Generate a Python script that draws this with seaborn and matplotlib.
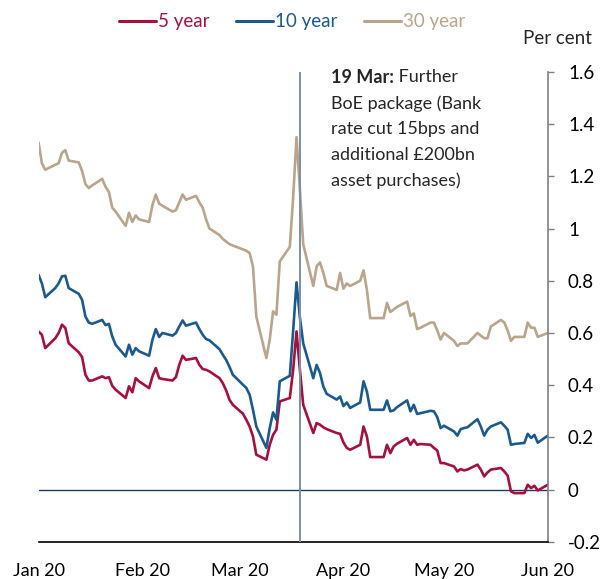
import matplotlib
matplotlib.use("Agg")
import matplotlib.pyplot as plt
import pandas as pd
import seaborn as sns
from matplotlib.lines import Line2D
from matplotlib.transforms import offset_copy

# business days, Jan 1 to Jun 1 2020 (holidays carry last value)
dates = pd.bdate_range("2020-01-01", "2020-06-01")

yld_30 = [1.33, 1.25, 1.225, 1.244, 1.25, 1.29, 1.30, 1.26, 1.253, 1.22, 1.17, 1.155, 1.165, 1.19, 1.16, 1.14, 1.08, 1.065, 1.01, 1.06, 1.025, 1.05, 1.035,
          1.025, 1.09, 1.13, 1.095, 1.087, 1.065, 1.07, 1.10, 1.13, 1.11, 1.125, 1.10, 1.08, 1.035, 1.00, 0.975, 0.96, 0.95, 0.94, 0.935,
          0.92, 0.915, 0.906, 0.855, 0.663, 0.504, 0.574, 0.683, 0.67, 0.874, 0.93, 1.12, 1.35, 1.15, 0.94, 0.78, 0.855, 0.87, 0.83, 0.78, 0.765, 0.83,
          0.77, 0.79, 0.78, 0.80, 0.84, 0.765, 0.657, 0.657, 0.657, 0.715, 0.68, 0.69, 0.70, 0.72, 0.665, 0.675, 0.615, 0.62, 0.64, 0.64, 0.61, 0.575,
          0.60, 0.57, 0.55, 0.56, 0.56, 0.56, 0.60, 0.59, 0.58, 0.58, 0.625, 0.65, 0.64, 0.61, 0.57, 0.585, 0.585, 0.64, 0.62, 0.62, 0.585,
          0.60]

yld_10 = [0.823, 0.79, 0.737, 0.772, 0.79, 0.817, 0.819, 0.772, 0.75, 0.727, 0.663, 0.64, 0.635, 0.65, 0.63, 0.635, 0.587, 0.555, 0.51, 0.555, 0.517, 0.542, 0.53,
          0.513, 0.574, 0.615, 0.585, 0.60, 0.59, 0.60, 0.625, 0.648, 0.628, 0.64, 0.615, 0.593, 0.577, 0.572, 0.538, 0.517, 0.497, 0.47, 0.44,
          0.402, 0.39, 0.364, 0.306, 0.242, 0.16, 0.236, 0.296, 0.268, 0.415, 0.436, 0.61, 0.794, 0.66, 0.56, 0.427, 0.478, 0.447, 0.395, 0.367, 0.345, 0.357,
          0.32, 0.334, 0.313, 0.334, 0.415, 0.376, 0.306, 0.306, 0.306, 0.342, 0.30, 0.304, 0.316, 0.342, 0.30, 0.325, 0.29, 0.293, 0.302, 0.30, 0.278, 0.236,
          0.245, 0.223, 0.207, 0.232, 0.236, 0.239, 0.27, 0.242, 0.207, 0.23, 0.242, 0.258, 0.245, 0.23, 0.172, 0.175, 0.179, 0.214, 0.198, 0.21, 0.18,
          0.207]

yld_5 = [0.606, 0.593, 0.542, 0.58, 0.60, 0.632, 0.619, 0.561, 0.526, 0.508, 0.44, 0.418, 0.418, 0.434, 0.427, 0.431, 0.398, 0.383, 0.351, 0.396, 0.373, 0.427, 0.415,
         0.389, 0.434, 0.466, 0.427, 0.424, 0.418, 0.431, 0.478, 0.513, 0.497, 0.504, 0.478, 0.462, 0.459, 0.453, 0.427, 0.408, 0.38, 0.344, 0.325,
         0.291, 0.268, 0.242, 0.204, 0.134, 0.115, 0.172, 0.21, 0.23, 0.338, 0.351, 0.46, 0.606, 0.46, 0.325, 0.217, 0.255, 0.249, 0.239, 0.232, 0.217, 0.214,
         0.181, 0.16, 0.153, 0.172, 0.242, 0.204, 0.125, 0.125, 0.125, 0.172, 0.14, 0.166, 0.176, 0.198, 0.172, 0.191, 0.172, 0.175, 0.172, 0.16, 0.15, 0.102,
         0.102, 0.089, 0.070, 0.079, 0.074, 0.077, 0.096, 0.077, 0.051, 0.066, 0.077, 0.083, 0.070, 0.054, -0.006, -0.013, -0.013, 0.019, 0.006, 0.015, -0.003,
         0.019]

series = ["5 year", "10 year", "30 year"]
colours = ["#A6103F", "#1C5A8E", "#B9A58C"]
month_labels = ["Jan 20", "Feb 20", "Mar 20", "Apr 20", "May 20", "Jun 20"]
event_date = pd.Timestamp("2020-03-19")

df = pd.concat([
    pd.DataFrame({"date": dates, "yield": yld_5, "series": "5 year"}),
    pd.DataFrame({"date": dates, "yield": yld_10, "series": "10 year"}),
    pd.DataFrame({"date": dates, "yield": yld_30, "series": "30 year"}),
])

sns.set_style("white")
plt.rcParams["font.family"] = ["Lato", "DejaVu Sans"]

fig = plt.figure(figsize=(6.02, 5.79), dpi=100)
ax = fig.add_axes([0.064, 0.064, 0.846, 0.812])

sns.lineplot(data=df, x="date", y="yield", hue="series", hue_order=series,
             palette=colours, linewidth=1.9, legend=False, ax=ax)

ax.axhline(0, color="#1F3A5F", linewidth=1.0, zorder=1)
ax.axvline(event_date, color="#7A90A4", linewidth=1.4, zorder=5)

ax.set_xlim(pd.Timestamp("2020-01-01"), pd.Timestamp("2020-06-01"))
ax.set_ylim(-0.2, 1.6)
ax.set_xlabel("")
ax.set_ylabel("")

ax.set_xticks(pd.date_range("2020-01-01", "2020-06-01", freq="MS"))
ax.set_xticklabels(month_labels)
ax.tick_params(axis="x", direction="in", length=6, width=1.2, pad=15,
               labelsize=13, colors="black")

yt = [-0.2 + 0.2 * i for i in range(10)]
ax.set_yticks(yt)
ax.set_yticklabels([f"{round(v, 1):g}" for v in yt])
ax.yaxis.tick_right()
ax.tick_params(axis="y", direction="out", length=4.5, width=1.0, pad=10,
               labelsize=13.5, labelcolor="black", color="#808080")

for s in ["left", "top"]:
    ax.spines[s].set_visible(False)
ax.spines["bottom"].set_color("black")
ax.spines["bottom"].set_linewidth(1.2)
ax.spines["right"].set_color("#808080")
ax.spines["right"].set_linewidth(1.2)

fig.text(557 / 602, 1 - 39 / 579, "Per cent", ha="center", va="center", fontsize=13.5)

# annotation: bold date, then the rest in regular weight
tx, ty = 0.5735, 1.005
bold = ax.text(tx, ty, "19 Mar:", transform=ax.transAxes, ha="left", va="top",
               fontsize=13, fontweight="bold")
fig.canvas.draw()
w = bold.get_window_extent().width
ax.text(tx, ty, " Further", transform=offset_copy(ax.transAxes, fig=fig, x=w, y=0, units="dots"),
        ha="left", va="top", fontsize=13)
ax.text(tx, ty, "BoE package (Bank\nrate cut 15bps and\nadditional £200bn\nasset purchases)",
        transform=offset_copy(ax.transAxes, fig=fig, x=0, y=-26, units="dots"),
        ha="left", va="top", fontsize=13, linespacing=1.73)

handles = [Line2D([], [], color=c, linewidth=2.2) for c in colours]
fig.legend(handles, series, loc="center", bbox_to_anchor=(0.485, 1 - 22 / 579),
           ncol=3, frameon=False, fontsize=13.5, handlelength=2.0,
           handletextpad=0.1, columnspacing=1.4, labelcolor=colours)

fig.savefig("out.png", dpi=100)
